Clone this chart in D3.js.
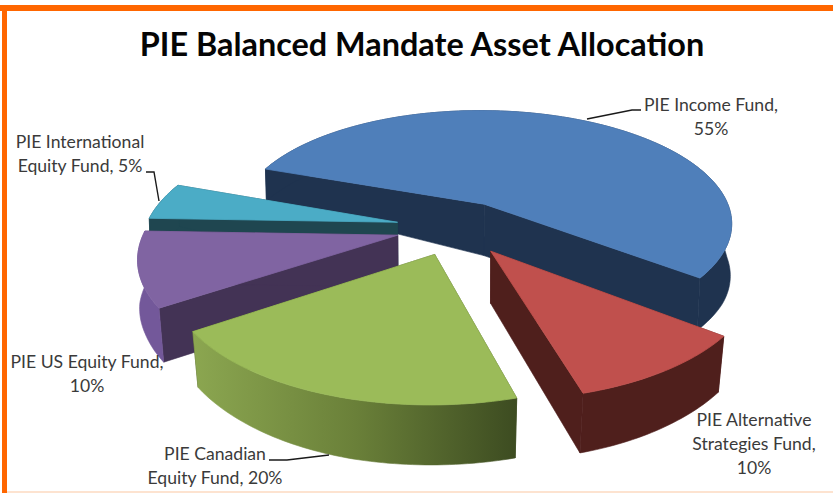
<!DOCTYPE html>
<html>
<head>
<meta charset="utf-8">
<script src="https://cdn.jsdelivr.net/npm/d3@7"></script>
<style>
  html, body { margin: 0; padding: 0; background: #fff; overflow: hidden; }
  svg { display: block; }
  text { font-family: Lato, "Open Sans", sans-serif; }
</style>
</head>
<body>
<div id="chart"></div>
<script>
// chart values
var title = "PIE Balanced Mandate Asset Allocation";
var funds = ["income", "alternative", "canadian", "us", "international"];
var shares = [55, 10, 20, 10, 5];
var labelLines = [
    ["PIE Income Fund,", "55%"],
    ["PIE Alternative", "Strategies Fund,", "10%"],
    ["PIE Canadian", "Equity Fund, 20%"],
    ["PIE US Equity Fund,", "10%"],
    ["PIE International", "Equity Fund, 5%"]
];

// colours per fund
var topColors = ["#4f7fba", "#c0504d", "#9bbb59", "#8064a2", "#4bacc6"];
var wallColors = ["#1f334f", "#4f1f1c", "#3f4d22", "#433355", "#1f4650"];
var rimColors = ["#1f334f", "#4f1f1c", "url(#greenRim)", "#73589a", "#1f4650"];

// label placement: centre x and first baseline
var labelX = [711, 754, 215, 87, 80];
var labelY = [111, 426, 460, 368, 148];
var lineGap = 24;

var width = 833;
var height = 493;

var cx = 456, cy = 227.5;
var radius = 252;
var explode = 60;
var squash = 0.46;
var persp = 0.00065;

// wall height and inward lean depend on how far back the point sits
var wallHeight = d3.scaleLinear()
    .domain([-300, -110, 50, 139])
    .range([60, 52, 52, 32])
    .clamp(true);
var wallLean = d3.scaleLinear()
    .domain([-250, -50])
    .range([0.975, 0.995])
    .clamp(true);

var svg = d3.select("#chart")
    .append("svg")
    .attr("width", width)
    .attr("height", height);

// frame
svg.append("rect").attr("x", 0).attr("y", 5).attr("width", width).attr("height", 6).attr("fill", "#ff6600");
svg.append("rect").attr("x", 2).attr("y", 5).attr("width", 5).attr("height", height - 5).attr("fill", "#ff6600");
svg.append("rect").attr("x", 7).attr("y", 491).attr("width", width - 7).attr("height", 2).attr("fill", "#fde3d0");

var grad = svg.append("defs").append("linearGradient")
    .attr("id", "greenRim")
    .attr("gradientUnits", "userSpaceOnUse")
    .attr("x1", 195).attr("x2", 516)
    .attr("y1", 0).attr("y2", 0);
grad.append("stop").attr("offset", "0%").attr("stop-color", "#8ba650");
grad.append("stop").attr("offset", "50%").attr("stop-color", "#6a8039");
grad.append("stop").attr("offset", "100%").attr("stop-color", "#3d4c21");

// plane point to screen, drop = 0 for the top face and 1 for the bottom
function project(x, y, drop) {
    var w = 1 + persp * y;
    var sx = x / w;
    var sy = -squash * y / w;
    if (drop) {
        sx = sx * wallLean(y);
        sy = sy + wallHeight(y);
    }
    return [cx + sx, cy + sy];
}

var pie = d3.pie()
    .sort(null)
    .startAngle(-70 * Math.PI / 180)
    .endAngle(290 * Math.PI / 180);

var slices = pie(shares).map(function(d, i) {
    var mid = (d.startAngle + d.endAngle) / 2;
    return {
        i: i,
        fund: funds[i],
        start: d.startAngle,
        end: d.endAngle,
        mid: mid,
        ox: explode * Math.sin(mid),
        oy: explode * Math.cos(mid)
    };
});

function rimPoints(s, drop) {
    var n = Math.ceil((s.end - s.start) / 0.02);
    return d3.range(n + 1).map(function(k) {
        var a = s.start + (s.end - s.start) * k / n;
        return project(s.ox + radius * Math.sin(a), s.oy + radius * Math.cos(a), drop);
    });
}

var line = d3.line();

// far slices first
var order = slices.slice().sort(function(a, b) {
    return d3.descending(Math.cos(a.mid), Math.cos(b.mid));
});

var groups = svg.selectAll("g.slice").data(order).enter()
    .append("g")
    .attr("class", function(d) { return "slice " + d.fund; });

// the two cut walls
groups.each(function(s) {
    var g = d3.select(this);
    [s.start, s.end].forEach(function(a) {
        var ex = s.ox + radius * Math.sin(a);
        var ey = s.oy + radius * Math.cos(a);
        var quad = [
            project(s.ox, s.oy, 0),
            project(ex, ey, 0),
            project(ex, ey, 1),
            project(s.ox, s.oy, 1)
        ];
        g.append("path")
            .attr("d", line(quad) + "Z")
            .attr("fill", wallColors[s.i])
            .attr("stroke", wallColors[s.i])
            .attr("stroke-width", 0.6);
    });
});

// outer wall
groups.append("path")
    .attr("d", function(s) {
        return line(rimPoints(s, 0).concat(rimPoints(s, 1).reverse())) + "Z";
    })
    .attr("fill", function(s) { return rimColors[s.i]; })
    .attr("stroke", function(s) { return rimColors[s.i]; })
    .attr("stroke-width", 0.6);

// top face, stroked so no wall colour peeks round its edge
groups.append("path")
    .attr("d", function(s) {
        return line([project(s.ox, s.oy, 0)].concat(rimPoints(s, 0))) + "Z";
    })
    .attr("fill", function(s) { return topColors[s.i]; })
    .attr("stroke", function(s) { return topColors[s.i]; })
    .attr("stroke-width", 0.8);

// leader lines
var leaders = [
    [[587, 119], [632, 110], [641, 110]],
    [[146, 172], [154, 172], [159, 201]],
    [[269, 460], [287, 460], [329, 455]]
];
svg.selectAll("path.leader").data(leaders).enter()
    .append("path")
    .attr("class", "leader")
    .attr("d", line)
    .attr("fill", "none")
    .attr("stroke", "#1a1a1a")
    .attr("stroke-width", 1.4);

// data labels
var labels = svg.selectAll("text.label").data(labelLines).enter()
    .append("text")
    .attr("class", "label")
    .attr("text-anchor", "middle")
    .attr("font-size", 17.6)
    .attr("fill", "#3a3a3a");

labels.selectAll("tspan").data(function(d, i) {
        return d.map(function(t, k) { return { t: t, k: k, i: i }; });
    }).enter()
    .append("tspan")
    .attr("x", function(d) { return labelX[d.i]; })
    .attr("y", function(d) { return labelY[d.i] + d.k * lineGap; })
    .text(function(d) { return d.t; });

svg.append("text")
    .attr("x", 422)
    .attr("y", 56)
    .attr("text-anchor", "middle")
    .attr("font-size", 32.4)
    .attr("font-weight", 700)
    .attr("fill", "#050505")
    .text(title);
</script>
</body>
</html>
